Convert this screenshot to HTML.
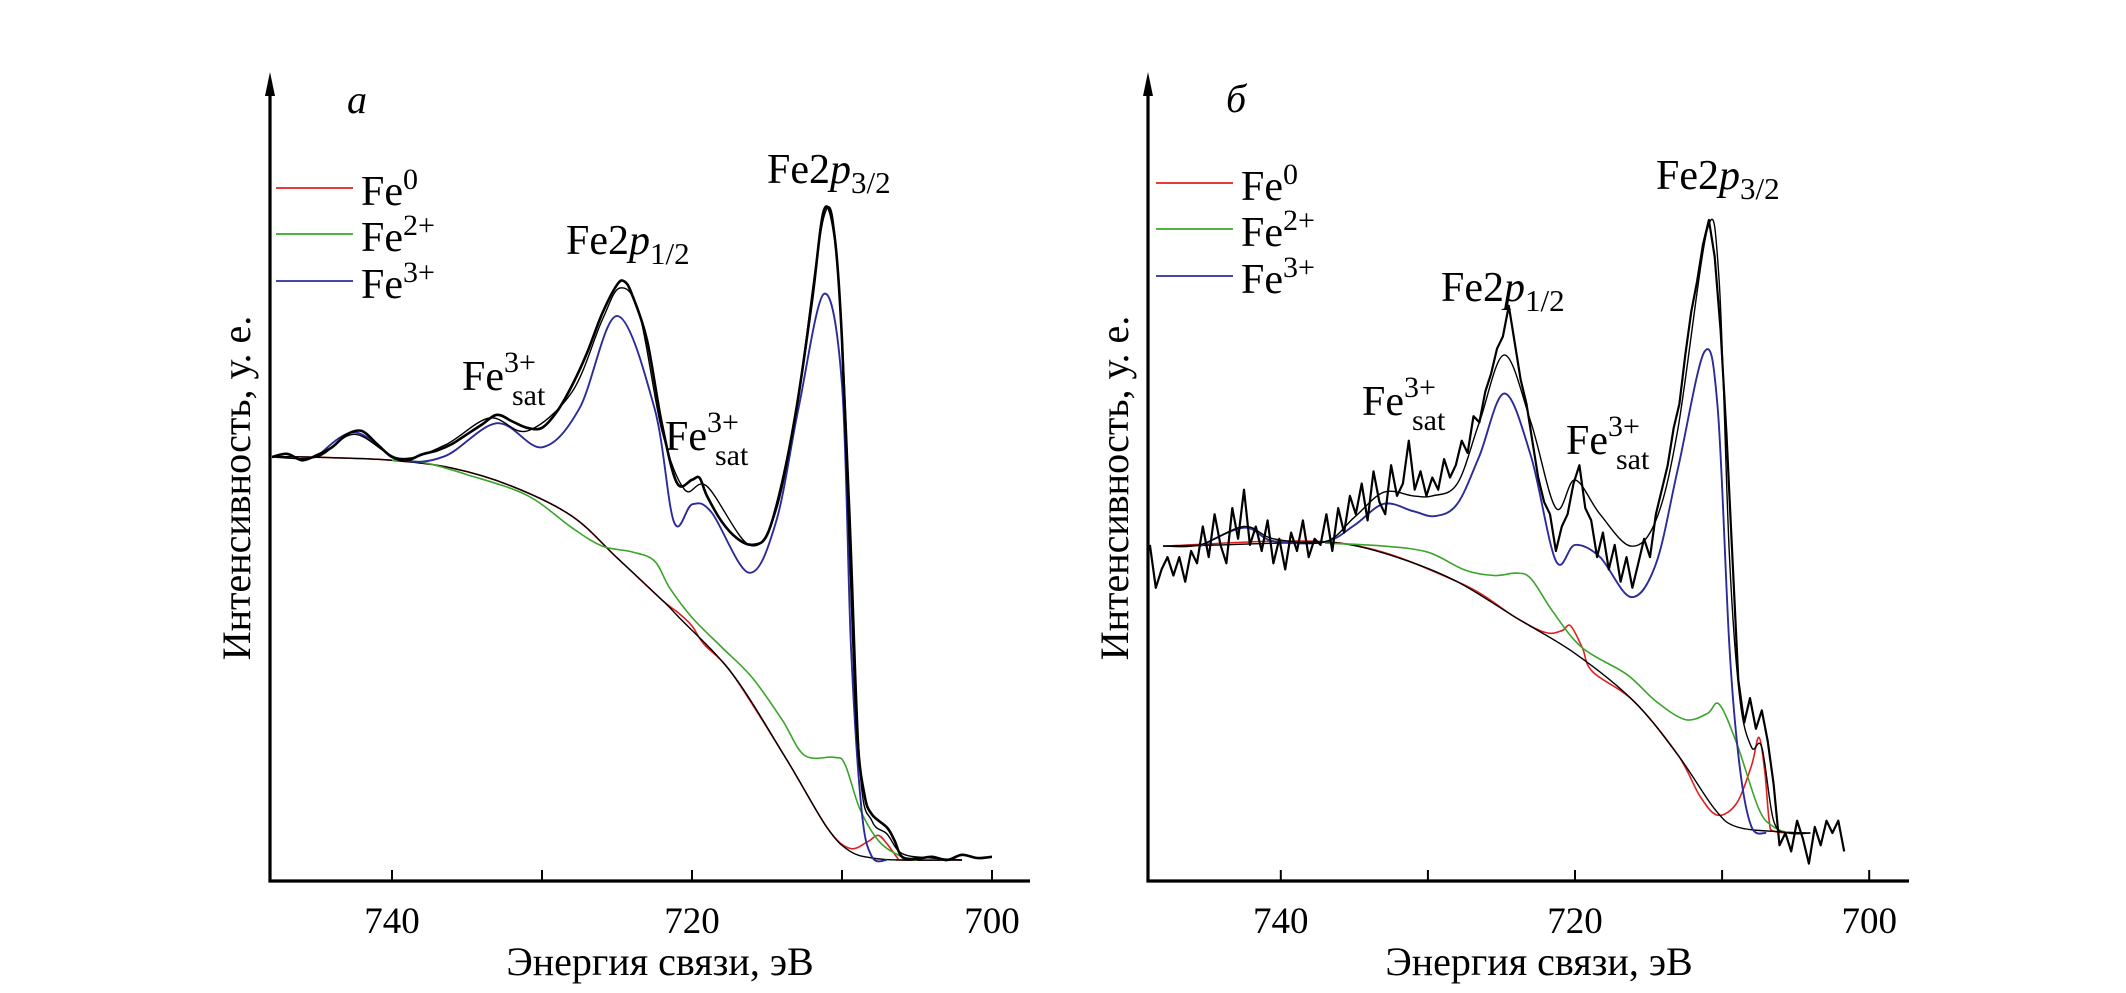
<!DOCTYPE html>
<html><head><meta charset="utf-8"><style>
html,body{margin:0;padding:0;background:#fff;}
svg{display:block;font-family:"Liberation Serif",serif;}
</style></head><body>
<svg id="chart" width="2126" height="993" viewBox="0 0 2126 993" xmlns="http://www.w3.org/2000/svg"></svg>
<script>
// ---------- Panel a data ----------
const aDataE = [748,747,746,745,744,743,742,741,740,739,738,737,736,735,734,733,732,731,730,729,728,727,726,725,724.5,724,723,722,721,720,719.5,719,718,717,716,715,714,713,712,711.2,710.5,710,709.5,709,708.5,708,707,706.5,706,705,704,703,702,701,700];
const aDataI = [62,62.5,61.5,62.3,63.5,65.5,66,64,62,61.5,62.4,63,64,65.5,67,68.5,67.5,66.5,66.5,69,73,78,84,88.5,89,87,80,67,58,58.5,58.8,56,52,49.5,48.5,50,58,70,86,100,96,80,50,20,10,7,5,3,0.5,0.2,0.5,0,0.8,0.3,0.5];
const aFitE = [748,745,742.5,739.5,736.5,733.5,731,728,726,724.8,723.5,722,720.5,719,716.2,714.5,713,711.2,710.3,709.5,708.8,708,707,706,704,702];
const aFitI = [62,62,65.5,61.8,63.8,68,66,72,83,88,84,66,57,57.5,48.5,53,70,99,92,55,14,6,4,1,0.3,0];
const aBgE = [748,744,740,736,732,728,725,722,720.9,717.3,713.7,711,709.5,708,706,702];
const aBgI = [62.1,61.9,61.5,60.3,57.5,52.9,46.5,40,37.4,28.6,15.5,5,1.4,0.3,0,0];
const aFe0E = [748,744,740,736,732,728,725,722,720.9,720,719.2,717.3,713.7,711,709.5,708.3,707.6,707,706.3,706,702];
const aFe0I = [62.1,61.9,61.5,60.3,57.5,52.9,46.5,40,38,36,33.2,28.6,15.5,5,1.8,2.8,3.8,2.5,0.3,0,0];
const aFe2E = [740,738,735,731,728,726,724,722.5,721.5,720,718,716,714,712.5,710.5,709.8,708.8,707.5,706,705];
const aFe2I = [61.5,61.2,59.3,56.1,51.1,48.3,47.4,46,41.9,37.3,32.7,28.1,21.6,16.1,15.8,14.7,7.8,2.8,0.5,0];
const aFe3E = [745,742.5,739.5,736.5,733,730,727.5,725,722.5,721.2,720,718.7,716.2,714.4,712.9,711.2,710,709.4,708.7,708,707];
const aFe3I = [62.1,65.8,61.6,62.1,67.2,63.5,69.5,83.7,69.5,52,54.7,53.5,44.2,52,69.5,87.1,73.1,32.7,7.8,0.5,0];

// ---------- Panel б data ----------
const bDataE = [748.9,748.5,748.1,747.7,747.3,746.9,746.5,746.1,745.7,745.3,744.9,744.5,744.1,743.7,743.3,742.9,742.5,742.1,741.7,741.3,740.9,740.5,740.1,739.7,739.3,738.9,738.5,738.1,737.7,737.3,736.9,736.5,736.1,735.7,735.3,734.9,734.5,734.1,733.7,733.3,732.9,732.5,732.1,731.7,731.3,730.9,730.5,730.1,729.7,729.3,728.9,728.5,728.1,727.7,727.3,726.9,726.5,726.1,725.7,725.3,724.9,724.5,724.1,723.7,723.3,722.9,722.5,722.1,721.7,721.3,720.9,720.5,720.1,719.7,719.3,718.9,718.5,718.1,717.7,717.3,716.9,716.5,716.1,715.7,715.3,714.9,714.5,714.1,713.7,713.3,712.9,712.5,712.1,711.7,711.3,710.9,710.5,710.1,709.7,709.3,708.9,708.5,708.1,707.7,707.3,706.9,706.5,706.1,705.7,705.3,704.9,704.5,704.1,703.7,703.3,702.9,702.5,702.1,701.7];
const bDataI = [47,40,43,45,42,45,41,46,44,50,45,52,47,44,53,48,56,47,50,46,51,44,48,43,49,46,51,45,48,47,52,46,53,49,55,52,57,51,59,54,52,60,55,57,64,56,59,55,58,56,61,58,60,64,62,68,67,72,75,79,81,86,80,74,70,64,58,54,52,46,50,52,57,60,53,51,45,49,43,47,41,45,40,44,48,45,52,56,60,66,70,78,85,90,96,100,94,82,65,45,25,18,22,17,20,15,8,-2,0,-3,2,-1,-5,1,-2,2,0,2,-3];
const bFitE = [748,745.5,742.5,740.5,737,735,733,731,729.7,728,726.5,724.8,723,721.3,720,718.3,716.2,714.5,713,711,710.2,709.5,708.8,708,707.3,706.5,705.5,704];
const bFitI = [46.8,47,50,48,47.5,51.5,55.6,55,55,57,67,78,67,53,57.6,52,46.8,51,66,98.5,90,45,22,14,14,2,0,0];
const bBgE = [748,744,740,736,732,728,724,720,716,713,710.5,709,706,704];
const bBgI = [46.8,47,47.3,47.3,44.9,41,35.1,29.3,21.5,12.7,3.9,1,0.2,0];
const bFe0E = [748,736,728,724,722,720.9,720.3,719.5,718.8,716,713,711.5,710.3,709,708,707.5,707.1,706.8,706.5,705];
const bFe0I = [46.8,47.3,41,35.1,32.7,33,33.8,30.2,26.3,21.5,12.7,6,2.9,4.9,11,15.6,10,2,0.3,0];
const bFe2E = [737,733,730,727.5,725.5,724,723,721.5,719.5,716.5,714.5,712.5,711,710.2,709,707.5,706.5,705.5];
const bFe2I = [47.3,46.8,45.8,42.9,42,42.4,41.5,36.1,30.2,25.9,21.5,18.5,19.5,21,14.6,3.9,1,0];
const bFe3E = [745.5,742.5,740.5,737,735,733,731,729.5,728,726.5,724.8,723,721.3,720,718.3,716.2,714.5,713,711.2,710.3,709.5,708.8,708,707];
const bFe3I = [46.8,49.8,47.6,47.5,50.2,53.7,52.5,51.7,53.7,61.5,71.7,61.5,44.4,47,45,38.5,43.9,59.5,78.5,69.3,30.2,10.7,1,0];

const tickVals = [740,720,700];
const legendNames = ["Fe","Fe","Fe"];
const legendSups = ["0","2+","3+"];

const NS = "http://www.w3.org/2000/svg";
const svg = document.getElementById('chart');
function mk(tag, attrs, parent){const e=document.createElementNS(NS,tag);for(const k in attrs)e.setAttribute(k,attrs[k]);(parent||svg).appendChild(e);return e;}

function smoothPath(pts){
  let d="M"+pts[0][0].toFixed(1)+","+pts[0][1].toFixed(1);
  for(let i=0;i<pts.length-1;i++){
    const p0=pts[i-1]||pts[i],p1=pts[i],p2=pts[i+1],p3=pts[i+2]||p2;
    const c1=[p1[0]+(p2[0]-p0[0])/6,p1[1]+(p2[1]-p0[1])/6];
    const c2=[p2[0]-(p3[0]-p1[0])/6,p2[1]-(p3[1]-p1[1])/6];
    d+=" C"+c1[0].toFixed(1)+","+c1[1].toFixed(1)+" "+c2[0].toFixed(1)+","+c2[1].toFixed(1)+" "+p2[0].toFixed(1)+","+p2[1].toFixed(1);
  }
  return d;
}
function linePath(pts){return "M"+pts.map(p=>p[0].toFixed(1)+","+p[1].toFixed(1)).join(" L");}

function panel(cfg){
  const g=mk('g',{});
  
  
  const x=E=>cfg.x720+(720-E)*cfg.pxPerEv;
  const y=I=>cfg.y0-I*cfg.pxPerI;
  const ya=mk('line',{x1:cfg.axX,y1:cfg.axY,x2:cfg.axX,y2:cfg.topY+14,stroke:'#000','stroke-width':3.2},g);
  
  
  const arr=mk('path',{d:`M${cfg.axX},${cfg.topY} L${cfg.axX-5},${cfg.topY+24} L${cfg.axX+5},${cfg.topY+24} Z`,fill:'#000'},g);
  
  
  const xa=mk('line',{x1:cfg.axX-1.6,y1:cfg.axY,x2:cfg.axRight,y2:cfg.axY,stroke:'#000','stroke-width':3.2},g);
  
  
  for(let E=740;E>=700;E-=10){
    const t=mk('line',{x1:x(E),y1:cfg.axY,x2:x(E),y2:cfg.axY-11,stroke:'#000','stroke-width':2},g);
    
    
  }
  tickVals.forEach(v=>{
    const t=mk('text',{x:x(v),y:cfg.axY+52,'text-anchor':'middle','font-size':37},g);
    t.textContent=v;
    
    
  });
  const xt=mk('text',{x:cfg.xTitleX,y:975,'text-anchor':'middle','font-size':40},g);
  xt.textContent="Энергия связи, эВ";
  
  
  const yt=mk('text',{x:0,y:0,'text-anchor':'middle','font-size':40,transform:`translate(${cfg.yTitleX},488) rotate(-90)`},g);
  yt.textContent="Интенсивность, у. е.";
  
  
  const pl=mk('text',{x:cfg.letterX,y:cfg.letterY,'font-size':40,'font-style':'italic'},g);
  pl.textContent=cfg.letter;
  
  
  const pts=(Es,Is)=>Es.map((E,i)=>[x(E),y(Is[i])]);
  const series=[
    [cfg.fe0,'#e02020',1.6,'fe0-component',true],
    [cfg.bg,'#000',1.4,'background-line',true],
    [cfg.fe2,'#3aa52a',1.6,'fe2-component',true],
    [cfg.fe3,'#2b2b9a',1.9,'fe3-component',true],
    [cfg.data,'#000',cfg.dataW,'measured-spectrum',cfg.dataSmooth],
    [cfg.fit,'#000',1.4,'fit-envelope',true]
  ];
  series.forEach(s=>{
    const p=pts(s[0][0],s[0][1]);
    const path=mk('path',{d:s[4]?smoothPath(p):linePath(p),fill:'none',stroke:s[1],'stroke-width':s[2],'stroke-linejoin':'round'},g);
    
    
  });
  const cols=['#e02020','#3aa52a','#2b2b9a'];
  legendNames.forEach((n,i)=>{
    const ly=cfg.legY[i];
    const l=mk('line',{x1:cfg.legX,y1:ly,x2:cfg.legX+77,y2:ly,stroke:cols[i],'stroke-width':1.8},g);
    
    
    const t=mk('text',{x:cfg.legX+85,y:ly+17,'font-size':42},g);
    
    
    t.textContent=n;
    const s=mk('tspan',{dy:-16,'font-size':30},t);
    s.textContent=legendSups[i];
  });
  cfg.peaks.forEach(pk=>{
    const t=mk('text',{x:pk[0],y:pk[1],'font-size':42},g);
    
    
    t.textContent="Fe2";
    const it=mk('tspan',{'font-style':'italic'},t);it.textContent="p";
    const sb=mk('tspan',{dy:10,'font-size':31},t);sb.textContent=pk[2];
  });
  cfg.sats.forEach(sp=>{
    const t=mk('text',{x:sp[0],y:sp[1],'font-size':42},g);
    
    
    t.textContent="Fe";
    const a=mk('tspan',{dy:-18,'font-size':30},t);a.textContent="3+";
    const b=mk('tspan',{x:sp[0]+50,dy:33,'font-size':30},t);b.textContent="sat";
  });
}

panel({name:'panel-a',x720:692,pxPerEv:15.0,y0:860,pxPerI:6.5,axX:270,axY:881,topY:72,axRight:1030,
  xTitleX:660,yTitleX:250,letter:'a',letterX:347,letterY:113,
  data:[aDataE,aDataI],dataW:2.6,dataSmooth:true,fit:[aFitE,aFitI],bg:[aBgE,aBgI],fe0:[aFe0E,aFe0I],fe2:[aFe2E,aFe2I],fe3:[aFe3E,aFe3I],
  legX:276,legY:[188,234,281],
  peaks:[[767,183,'3/2'],[566,254,'1/2']],sats:[[462,390],[665,450]]});
panel({name:'panel-b',x720:1575,pxPerEv:14.71,y0:833,pxPerI:6.13,axX:1148,axY:881,topY:72,axRight:1909,
  xTitleX:1539,yTitleX:1128,letter:'б',letterX:1226,letterY:112,
  data:[bDataE,bDataI],dataW:2.2,dataSmooth:false,fit:[bFitE,bFitI],bg:[bBgE,bBgI],fe0:[bFe0E,bFe0I],fe2:[bFe2E,bFe2I],fe3:[bFe3E,bFe3I],
  legX:1156,legY:[183,229,276],
  peaks:[[1656,189,'3/2'],[1441,301,'1/2']],sats:[[1362,415],[1566,454]]});
</script>
</body></html>
